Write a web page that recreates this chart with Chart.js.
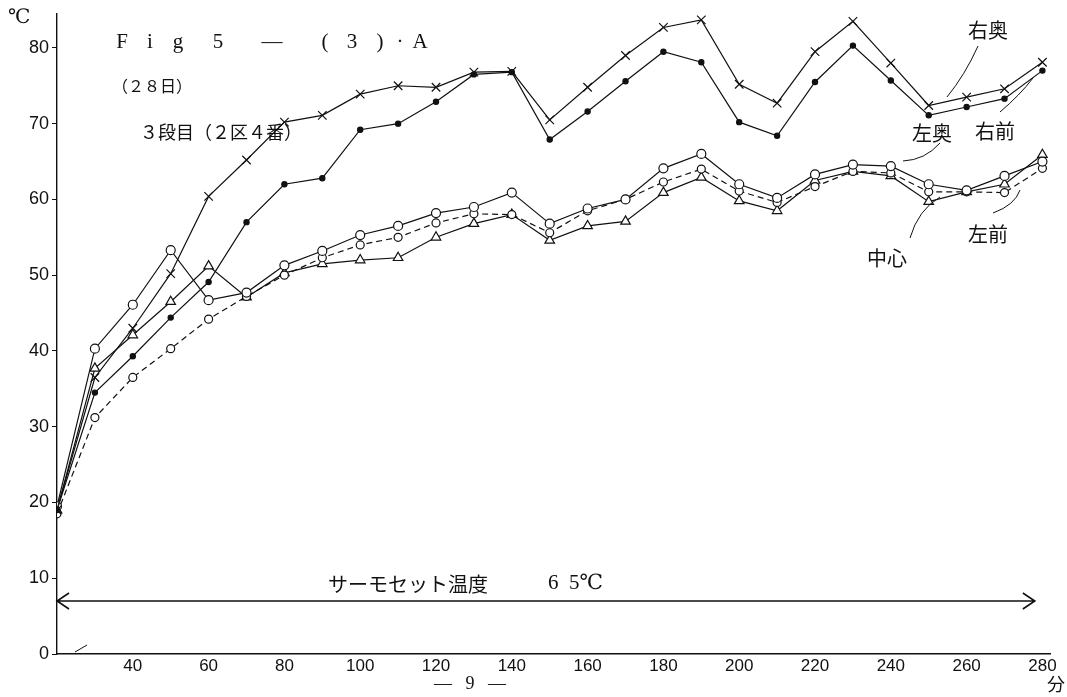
<!DOCTYPE html>
<html>
<head>
<meta charset="utf-8">
<script src="https://cdn.jsdelivr.net/npm/chart.js@4.4.1/dist/chart.umd.min.js"></script>
<style>
  html, body { margin: 0; padding: 0; background: #fff; }
  #wrap { width: 1067px; height: 697px; }
</style>
</head>
<body>
<div id="wrap"><canvas id="fig"></canvas></div>
<script>
// 時間 (分)
const times = [20, 30, 40, 50, 60, 70, 80, 90, 100, 110, 120, 130, 140, 150,
  160, 170, 180, 190, 200, 210, 220, 230, 240, 250, 260, 270, 280];

// 温度 (℃)
const migiOku = [19, 36.5, 43, 50.2, 60.4, 65.2, 70.2, 71.1, 73.9, 75.0, 74.8, 76.8, 76.9, 70.5,
  74.8, 79.0, 82.7, 83.7, 75.2, 72.7, 79.5, 83.5, 78.0, 72.4, 73.5, 74.6, 78.1];
const migiMae = [19, 34.5, 39.3, 44.4, 49.1, 57.0, 62.0, 62.8, 69.2, 70.0, 72.9, 76.5, 76.8, 67.9,
  71.6, 75.6, 79.5, 78.1, 70.2, 68.4, 75.5, 80.3, 75.7, 71.1, 72.2, 73.3, 77.0];
const hidariOku = [19.5, 40.3, 46.1, 53.3, 46.7, 47.7, 51.3, 53.2, 55.3, 56.5, 58.2, 59.0, 60.9, 56.8,
  58.8, 60.0, 64.1, 66.0, 62.0, 60.2, 63.3, 64.6, 64.4, 62.0, 61.2, 63.1, 65.0];
const hidariMae = [18.5, 31.2, 36.5, 40.3, 44.2, 47.2, 50.0, 52.3, 54.0, 55.0, 56.9, 58.1, 58.0, 55.6,
  58.5, 60.0, 62.3, 64.0, 61.1, 59.6, 61.7, 63.7, 63.5, 61.0, 61.0, 60.9, 64.1];
const chushin = [19, 37.7, 42.1, 46.5, 51.2, 47.1, 50.3, 51.5, 52.0, 52.3, 55.0, 56.8, 58.0, 54.6,
  56.5, 57.1, 60.9, 62.9, 59.8, 58.5, 62.5, 63.7, 63.1, 59.7, 61.0, 62.0, 65.9];

const xTicks = [40, 60, 80, 100, 120, 140, 160, 180, 200, 220, 240, 260, 280];
const yTicks = [0, 10, 20, 30, 40, 50, 60, 70, 80];

const thermoSet = 7;  // サーモセット線の高さ
const thermoFrom = 20, thermoTo = 278;

const ink = "#111";
const jp = "'Noto Sans CJK JP', sans-serif";
const serif = "'Liberation Serif', 'DejaVu Serif', serif";

function pts(vals) {
  return times.map((t, i) => ({ x: t, y: vals[i] }));
}

const extras = {
  id: "extras",
  afterDraw(chart) {
    const ctx = chart.ctx;
    const xs = chart.scales.x, ys = chart.scales.y;
    ctx.save();
    ctx.fillStyle = ink;
    ctx.strokeStyle = ink;

    // ℃
    ctx.font = "20px " + serif;
    ctx.textAlign = "left";
    ctx.textBaseline = "middle";
    ctx.fillText("℃", 8, 18);

    // 見出し
    ctx.font = "21px " + serif;
    ctx.textAlign = "center";
    [["F", 122], ["i", 150], ["g", 178], ["5", 218], ["—", 272],
     ["(", 325], ["3", 352], [")", 380], ["·", 400], ["A", 420]].forEach(c => {
      ctx.fillText(c[0], c[1], 42);
    });
    ctx.textAlign = "left";
    ctx.font = "16px " + jp;
    ctx.fillText("（２８日）", 112, 86);
    ctx.font = "18px " + jp;
    ctx.fillText("３段目（２区４番）", 140, 132);

    // 系列名
    ctx.font = "20px " + jp;
    ctx.fillText("右奥", 968, 30);
    ctx.fillText("右前", 975, 131);
    ctx.fillText("左奥", 912, 133);
    ctx.fillText("左前", 968, 234);
    ctx.fillText("中心", 867, 258);

    // 引き出し線
    ctx.lineWidth = 1;
    const lead = [
      [978, 46, 965, 75, 947, 97],
      [1000, 112, 1020, 95, 1033, 78],
      [940, 143, 925, 160, 903, 161],
      [993, 213, 1015, 205, 1020, 190],
      [910, 238, 918, 210, 940, 197]
    ];
    lead.forEach(l => {
      ctx.beginPath();
      ctx.moveTo(l[0], l[1]);
      ctx.quadraticCurveTo(l[2], l[3], l[4], l[5]);
      ctx.stroke();
    });

    // サーモセット温度
    const y = ys.getPixelForValue(thermoSet);
    const x0 = xs.getPixelForValue(thermoFrom), x1 = xs.getPixelForValue(thermoTo);
    ctx.lineWidth = 1.6;
    ctx.beginPath();
    ctx.moveTo(x0, y); ctx.lineTo(x1, y);
    ctx.moveTo(x0 + 12, y - 8); ctx.lineTo(x0, y); ctx.lineTo(x0 + 12, y + 8);
    ctx.moveTo(x1 - 12, y - 8); ctx.lineTo(x1, y); ctx.lineTo(x1 - 12, y + 8);
    ctx.stroke();
    ctx.font = "20px " + jp;
    ctx.fillText("サーモセット温度", 328, y - 17);
    ctx.font = "21px " + serif;
    ctx.fillText("6  5℃", 548, y - 17);

    // 下の矢印
    ctx.lineWidth = 1;
    ctx.beginPath();
    ctx.moveTo(xs.left + 30, ys.bottom - 9);
    ctx.lineTo(xs.left + 18, ys.bottom - 2);
    ctx.stroke();

    // 単位とページ
    ctx.font = "18px " + jp;
    ctx.fillText("分", 1047, 684);
    ctx.font = "18px " + serif;
    ctx.textAlign = "center";
    ctx.fillText("—   9   —", 470, 684);
    ctx.restore();
  }
};

const line = (label, vals, style, radius, fill, dash) => ({
  label: label,
  data: pts(vals),
  showLine: true,
  borderColor: ink,
  borderWidth: 1.2,
  borderDash: dash || [],
  pointStyle: style,
  pointRadius: radius,
  pointBorderColor: ink,
  pointBorderWidth: 1.2,
  pointBackgroundColor: fill,
  tension: 0
});

new Chart(document.getElementById("fig"), {
  type: "scatter",
  data: {
    datasets: [
      line("右奥", migiOku, "crossRot", 6, ink),
      line("右前", migiMae, "circle", 2.6, ink),
      line("左奥", hidariOku, "circle", 4.5, "#fff"),
      line("左前", hidariMae, "circle", 4, "#fff", [6, 4]),
      line("中心", chushin, "triangle", 5.5, "#fff")
    ],
  },
  options: {
    responsive: true,
    maintainAspectRatio: false,
    animation: false,
    layout: { padding: { top: 8, right: 17, left: 0, bottom: 0 } },
    plugins: {
      legend: { display: false },
      tooltip: { enabled: false },
    },
    scales: {
      x: {
        type: "linear",
        min: 20,
        max: 282,
        afterBuildTicks: (s) => { s.ticks = xTicks.map(v => ({ value: v })); },
        afterFit: (s) => { s.height = 43; },
        border: { display: true, color: ink, width: 1.4 },
        grid: { display: true, drawOnChartArea: false, tickLength: 0 },
        ticks: {
          color: ink,
          padding: 2,
          maxRotation: 0,
          font: { family: "'Liberation Sans', sans-serif", size: 17 },
        },
      },
      y: {
        min: 0,
        max: 84.5,
        afterBuildTicks: (s) => { s.ticks = yTicks.map(v => ({ value: v })); },
        afterFit: (s) => { s.width = 57; },
        border: { display: true, color: ink, width: 1.4 },
        grid: { display: true, drawOnChartArea: false, tickLength: 5, color: ink },
        ticks: {
          color: ink,
          padding: 3,
          font: { family: "'Liberation Sans', sans-serif", size: 18 },
        },
      },
    },
  },
  plugins: [extras],
});
</script>
</body>
</html>
